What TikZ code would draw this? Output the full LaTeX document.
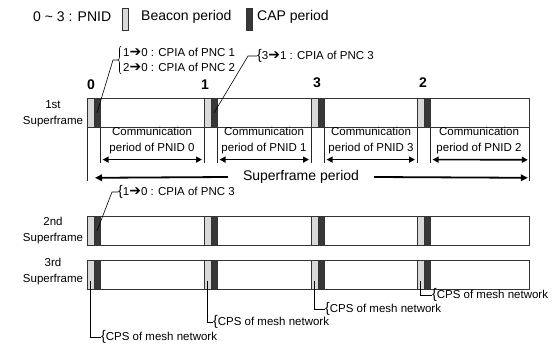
\documentclass[tikz,border=0pt]{standalone}
\usepackage{fontspec}
\setmainfont{Liberation Sans}
\newfontfamily\dejavu{DejaVu Sans}
\usetikzlibrary{arrows.meta,calc,decorations.pathreplacing}
\newcommand\myarr{{\dejavu\fontsize{14}{14}\selectfont\symbol{"2794}}}
\newcommand\bigbr{{\fontsize{14}{14}\selectfont\{}}
\begin{document}
\begin{tikzpicture}[x=1pt,y=-1pt,
  frm/.style={draw=black!80, line width=0.8pt, minimum width=442pt, minimum height=29pt, anchor=north west, inner sep=0},
  lslot/.style={draw=black!80, line width=0.6pt, fill=black!15, minimum width=6.5pt, minimum height=29pt, anchor=north west, inner sep=0},
  dslot/.style={lslot, fill=black!78},
  txt/.style={font=\fontsize{11.5}{16}\selectfont, inner sep=0},
  lgt/.style={font=\fontsize{14}{16}\selectfont, inner sep=0, anchor=west},
  num/.style={font=\bfseries\fontsize{14}{14}\selectfont, inner sep=0},
  tk/.style={draw=black!85, line width=0.8pt},
  dar/.style={line width=1.6pt, shorten <=2pt, shorten >=2pt, {Triangle[length=6pt,width=6pt]}-{Triangle[length=6pt,width=6pt]}},
  sar/.style={line width=1.8pt, -{Triangle[length=7pt,width=6.5pt]}},
  cl/.style={draw=black, line width=0.6pt},
  calt/.style={txt, anchor=west}
]
\useasboundingbox (0,0) rectangle (555,345);
\fill[white] (0,0) rectangle (555,345);

% legend
\node[lgt] (lg0) at (33,17) {0 \textasciitilde{} 3 : PNID};
\node[lslot, minimum height=22pt, minimum width=6pt] (lgb) at (122,8) {};
\node[lgt] (lg1) at (141,17) {Beacon period};
\node[dslot, minimum height=22pt, minimum width=6pt] (lgc) at (246,8) {};
\node[lgt] (lg2) at (257,17) {CAP period};

% frames and slots
\foreach \r/\t in {1/98,2/216,3/260} {
  \node[frm] (f\r) at (87,\t) {};
  \foreach \s/\x in {a/87,b/204,c/311,d/417} {
    \node[lslot] (l\r\s) at (\x,\t) {};
    \node[dslot] (d\r\s) at (\x+6.5,\t) {};
  }
}

% row labels
\node[txt, align=center] (sf1) at (53,113.5) {1st\\Superframe};
\node[txt, align=center] (sf2) at (53,231) {2nd\\Superframe};
\node[txt, align=center] (sf3) at (53,272) {3rd\\Superframe};

% PNID numbers
\node[num] (n0) at (91,85) {0};
\node[num] (n1) at (205,85) {1};
\node[num] (n3) at (317,83) {3};
\node[num] (n2) at (423,83) {2};

% communication periods
\foreach \s/\n in {a/b,b/c,c/d} {
  \draw[tk] (d1\s.south east) -- ++(0,35);
  \draw[tk] (l1\n.south west) -- ++(0,35);
  \draw[dar] ($(d1\s.south east)+(0,32)$) -- ($(l1\n.south west)+(0,32)$);
}
\draw[tk] (d1d.south east) -- ++(0,35);
\draw[dar] ($(d1d.south east)+(0,32)$) -- ($(f1.south east)+(0,32)$);
\draw[tk] (f1.south west) -- ++(0,53);
\draw[tk] (f1.south east) -- ++(0,53);

\node[txt, align=center] (cp0) at (152,141) {Communication\\period of PNID 0};
\node[txt, align=center] (cp1) at (264,141) {Communication\\period of PNID 1};
\node[txt, align=center] (cp3) at (371,141) {Communication\\period of PNID 3};
\node[txt, align=center] (cp2) at (479,141) {Communication\\period of PNID 2};

% superframe period
\node[font=\fontsize{14}{16}\selectfont, inner sep=0] (sp) at (301,177) {Superframe period};
\draw[sar] ($(sp.west)+(-15,0)$) -- ($(f1.south west)+(8,50)$);
\draw[sar] ($(sp.east)+(15,0)$) -- ($(f1.south east)+(-2,50)$);

% CPIA callouts
\node[txt, anchor=west, align=left, font=\fontsize{11.5}{15}\selectfont] (c1) at (123,60) {1\myarr0 : CPIA of PNC 1\\2\myarr0 : CPIA of PNC 2};
\draw[cl, decorate, decoration={brace,amplitude=3pt}] (121,74) -- (121,46);
\coordinate (c1tip) at (118,60);
\draw[cl] (d1a.center) -- (113,60) -- (c1tip);

\node[calt] (c2) at (257,56) {\bigbr3\myarr1 : CPIA of PNC 3};
\draw[cl] (d1b.center) -- (248,56) -- (c2.west);

\node[calt] (c3) at (118,192) {\bigbr1\myarr0 : CPIA of PNC 3};
\draw[cl] (d2a.center) -- (112,192) -- (c3.west);

% CPS callouts
\node[calt] (p1) at (101,337) {\bigbr CPS of mesh network};
\node[calt] (p2) at (213,322) {\bigbr CPS of mesh network};
\node[calt] (p3) at (325,309) {\bigbr CPS of mesh network};
\node[calt] (p4) at (432,295) {\bigbr CPS of mesh network};
\draw[cl] ($(l3a.center)+(0,6)$) |- (p1.west);
\draw[cl] ($(l3b.center)+(0,6)$) |- (p2.west);
\draw[cl] ($(l3c.center)+(0,6)$) |- (p3.west);
\draw[cl] ($(l3d.center)+(0,6)$) |- (p4.west);
\end{tikzpicture}
\end{document}
